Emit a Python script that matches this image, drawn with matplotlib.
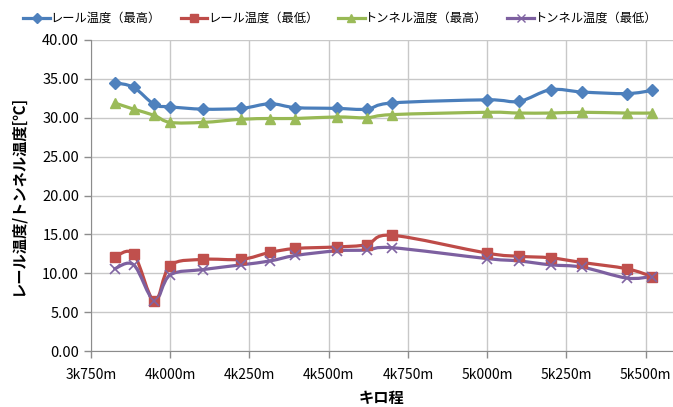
import numpy as np
import matplotlib.pyplot as plt
from matplotlib.path import Path
from matplotlib.patches import PathPatch
from matplotlib.lines import Line2D
from matplotlib.ticker import FuncFormatter, MultipleLocator

plt.rcParams['font.family'] = ['Noto Sans CJK JP', 'DejaVu Sans']

# キロ程 [m]
kilo = [3825, 3885, 3950, 4000, 4105, 4225, 4315, 4395, 4525, 4620,
        4700, 5000, 5100, 5200, 5300, 5440, 5520]

rail_max = [34.5, 33.9, 31.7, 31.4, 31.1, 31.2, 31.8, 31.3, 31.2, 31.1,
            31.9, 32.3, 32.1, 33.6, 33.3, 33.1, 33.5]
rail_min = [12.1, 12.5, 6.4, 11.0, 11.8, 11.8, 12.7, 13.2, 13.4, 13.7,
            14.9, 12.6, 12.2, 12.0, 11.4, 10.6, 9.6]
tunnel_max = [31.9, 31.1, 30.3, 29.4, 29.4, 29.8, 29.9, 29.9, 30.1, 30.0,
              30.4, 30.7, 30.6, 30.6, 30.7, 30.6, 30.6]
tunnel_min = [10.6, 11.1, 6.5, 9.8, 10.5, 11.1, 11.6, 12.3, 12.9, 13.0,
              13.3, 11.9, 11.6, 11.1, 10.8, 9.4, 9.6]

labels = ['レール温度（最高）', 'レール温度（最低）', 'トンネル温度（最高）', 'トンネル温度（最低）']
series = [rail_max, rail_min, tunnel_max, tunnel_min]
line_colors = ['#4A7EBB', '#BE4B48', '#98B954', '#7D60A0']
marker_colors = ['#4F81BD', '#C0504D', '#9BBB59', '#8064A2']
markers = ['D', 's', '^', 'x']
msizes = [6.5, 7, 7.5, 7]


def smooth_path(x, y):
    # Excel風の平滑線 (Catmull-Rom -> ベジェ)
    p = np.column_stack([x, y]).astype(float)
    n = len(p)
    verts = [p[0]]
    codes = [Path.MOVETO]
    for i in range(n - 1):
        p0 = p[i - 1] if i > 0 else p[i]
        p1 = p[i]
        p2 = p[i + 1]
        p3 = p[i + 2] if i + 2 < n else p[i + 1]
        c1 = p1 + (p2 - p0) / 6
        c2 = p2 - (p3 - p1) / 6
        verts += [c1, c2, p2]
        codes += [Path.CURVE4] * 3
    return Path(verts, codes)


fig = plt.figure(figsize=(6.73, 4.07), dpi=100)
ax = fig.add_axes([0.135, 0.137, 0.865, 0.765])

for ys, lc, mc, mk, ms in zip(series, line_colors, marker_colors, markers, msizes):
    ax.add_patch(PathPatch(smooth_path(kilo, ys), fill=False, edgecolor=lc,
                           lw=2.3, zorder=3, capstyle='round', joinstyle='round'))
    if mk == 'x':
        ax.plot(kilo, ys, linestyle='none', marker=mk, ms=ms, mew=1.2,
                color=mc, zorder=4)
    else:
        ax.plot(kilo, ys, linestyle='none', marker=mk, ms=ms, mfc=mc,
                mec=mc, zorder=4)

ax.set_xlim(3750, 5586)
ax.set_ylim(0, 40)
ax.xaxis.set_major_locator(MultipleLocator(250))
ax.yaxis.set_major_locator(MultipleLocator(5))
ax.xaxis.set_major_formatter(FuncFormatter(lambda v, p: f'{int(v)//1000}k{int(v)%1000:03d}m'))
ax.yaxis.set_major_formatter(FuncFormatter(lambda v, p: f'{v:.2f}'))

ax.grid(True, color='#C8C8C8', lw=1.0)
ax.set_axisbelow(True)
for s in ['top', 'right']:
    ax.spines[s].set_visible(False)
for s in ['left', 'bottom']:
    ax.spines[s].set_color('#8C8C8C')
ax.tick_params(axis='both', colors='#8C8C8C', labelcolor='black', labelsize=10,
               length=5, width=1)
ax.tick_params(axis='y', labelsize=10.5)
ax.tick_params(axis='x', pad=7)

ax.set_xlabel('キロ程', fontsize=11, fontweight='bold', labelpad=6)
ax.set_ylabel('レール温度/トンネル温度[℃]', fontsize=11, fontweight='bold', labelpad=12)

handles = [Line2D([0], [0], color=lc, lw=2.3, marker=mk, ms=ms * 0.8,
                  mfc=mc, mec=mc)
           for lc, mc, mk, ms in zip(line_colors, marker_colors, markers, msizes)]
fig.legend(handles, labels, loc='upper left', bbox_to_anchor=(0.02, 0.995),
           ncol=4, frameon=False, fontsize=8.8, handlelength=2.2,
           handletextpad=0.05, columnspacing=1.6, borderpad=0.3)

fig.savefig('out.png', dpi=100)
